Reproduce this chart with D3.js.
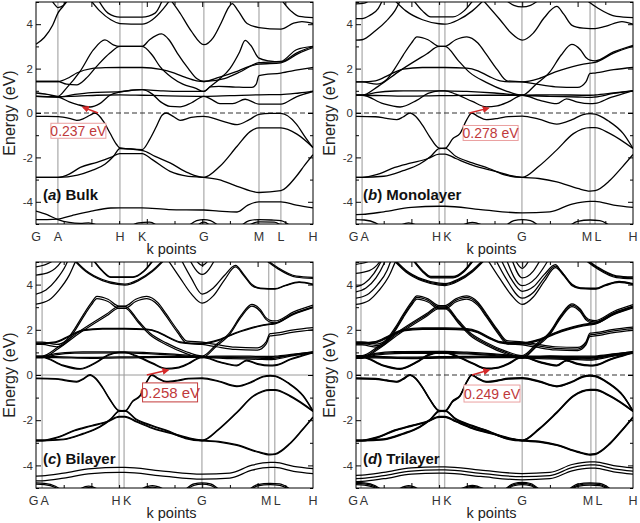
<!DOCTYPE html>
<html><head><meta charset="utf-8">
<script src="https://cdn.jsdelivr.net/npm/d3@7"></script>
<style>
body{margin:0;background:#fff}
svg text{font-family:"Liberation Sans",Arial,Helvetica,sans-serif}
</style></head>
<body><svg id="c" width="640" height="523"></svg>
<script>
// ---------------- DATA ----------------
const kLabels = ["G","A","H","K","G","M","L","H"];
const kPosBulk = [0,0.079,0.303,0.383,0.606,0.805,0.884,1];
const kPosMono = [0,0.022,0.300,0.321,0.599,0.845,0.863,1];
const kPosBi   = [0,0.022,0.300,0.318,0.599,0.840,0.862,1];
const kPosTri  = [0,0.018,0.300,0.320,0.600,0.848,0.866,1];
const panelNames = ["a","b","c","d"];
const panelTitles = ["Bulk","Monolayer","Bilayer","Trilayer"];
const gapLabels = ["0.237 eV","0.278 eV","0.258 eV","0.249 eV"];
const yMajor = [-4,-2,0,2,4];
const yMinor = [-5,-3,-1,1,3,5];

// Bulk bands [k, E(eV)]
const bV1=[[0,-0.15],[0.04,-0.15],[0.08,-0.16],[0.12,-0.24],[0.147,-0.33],[0.17,-0.26],[0.195,-0.1],[0.213,0],[0.243,-0.37],[0.267,-0.9],[0.291,-1.42],[0.303,-1.57],[0.34,-1.62],[0.383,-1.65],[0.41,-1.2],[0.435,-0.6],[0.455,-0.1],[0.47,0],[0.495,-0.15],[0.52,-0.33],[0.56,-0.2],[0.606,-0.15],[0.664,-0.33],[0.726,-0.52],[0.77,-0.3],[0.805,-0.06],[0.845,-0.02],[0.884,-0.02],[0.94,-0.5],[0.97,-1.05],[1,-1.57]];
const bV2=[[0,-2.9],[0.079,-2.9],[0.12,-2.75],[0.16,-2.45],[0.22,-2.22],[0.27,-2.0],[0.303,-1.83],[0.383,-1.83],[0.42,-2.1],[0.484,-2.63],[0.55,-2.85],[0.606,-2.9],[0.66,-3.0],[0.726,-3.3],[0.805,-3.58],[0.884,-3.5],[0.94,-2.85],[0.97,-2.35],[1,-1.88]];
const bV3=[[0,-2.9],[0.079,-2.9],[0.15,-2.8],[0.2,-2.6],[0.25,-2.3],[0.28,-1.95],[0.303,-1.6],[0.383,-1.68],[0.43,-1.95],[0.484,-2.25],[0.55,-2.7],[0.606,-2.9],[0.664,-2.4],[0.726,-1.5],[0.773,-0.84],[0.805,-0.67],[0.884,-0.67],[0.942,-0.95],[1,-1.55]];
const bV4=[[0,-4.42],[0.04,-4.58],[0.079,-4.8],[0.12,-4.93],[0.16,-4.97],[0.19,-4.95],[0.22,-5.05],[0.25,-5.2]];
const bV5=[[0,-4.8],[0.04,-4.8],[0.079,-4.78],[0.13,-4.62],[0.2,-4.42],[0.27,-4.28],[0.303,-4.27],[0.383,-4.27],[0.48,-4.35],[0.606,-4.37],[0.66,-4.42],[0.726,-4.46],[0.765,-4.15],[0.805,-4.0],[0.884,-4.0],[0.94,-4.15],[1,-4.27]];
const bV6=[[0.33,-5.2],[0.37,-4.95],[0.41,-4.92],[0.45,-5.2]];
const bV7=[[0.54,-5.2],[0.58,-4.85],[0.606,-4.8],[0.63,-4.85],[0.67,-5.2]];
const bV8=[[0.57,-5.2],[0.606,-4.92],[0.64,-5.2]];
const bV9=[[0.73,-5.2],[0.77,-4.85],[0.805,-4.8],[0.85,-4.82],[0.884,-4.85],[0.93,-5.2]];
const bV10=[[0.75,-5.2],[0.805,-4.9],[0.86,-4.92],[0.9,-5.2]];
const bC1=[[0,0.75],[0.04,0.74],[0.079,0.72],[0.12,0.5],[0.15,0.38],[0.195,0.27],[0.23,0.42],[0.267,0.8],[0.303,0.94],[0.383,1.05],[0.42,0.85],[0.45,0.5],[0.484,0.3],[0.52,0.28],[0.56,0.45],[0.606,0.75],[0.635,0.6],[0.664,0.42],[0.71,0.42],[0.755,0.62],[0.805,0.4],[0.884,0.4],[0.94,0.73],[1,0.97]];
const bC2=[[0,0.75],[0.079,0.74],[0.15,0.76],[0.22,0.8],[0.303,0.82],[0.383,0.8],[0.45,0.78],[0.52,0.76],[0.606,0.75],[0.7,0.78],[0.805,0.82],[0.884,0.83],[0.95,0.9],[1,0.97]];
const bC3=[[0,0.75],[0.079,0.72],[0.14,0.84],[0.2,0.92],[0.303,0.96],[0.383,1.05],[0.45,1.0],[0.52,0.97],[0.606,0.97],[0.63,1.18],[0.66,1.2],[0.72,1.17],[0.78,1.15],[0.795,1.3],[0.805,1.68],[0.884,1.8],[0.95,1.95],[1,2.05]];
const bC4=[[0,1.42],[0.079,1.42],[0.11,1.3],[0.147,1.27],[0.18,1.55],[0.219,2.1],[0.267,2.7],[0.303,3.0],[0.383,3.0],[0.42,2.6],[0.447,2.1],[0.49,1.6],[0.53,1.3],[0.575,1.12],[0.606,0.97],[0.63,1.2],[0.66,1.5],[0.7,2.0],[0.735,2.75],[0.755,3.27],[0.775,3.05],[0.805,2.47],[0.84,2.35],[0.884,2.3],[0.94,2.7],[1,3.0]];
const bC5=[[0,1.42],[0.079,1.42],[0.12,1.6],[0.147,1.8],[0.2,2.0],[0.25,2.04],[0.303,2.05],[0.383,2.05],[0.45,1.97],[0.5,1.8],[0.54,1.6],[0.58,1.45],[0.606,1.42],[0.68,1.55],[0.74,1.87],[0.805,2.27],[0.884,2.32],[0.94,2.85],[1,3.0]];
const bC6=[[0,0.9],[0.04,0.84],[0.079,0.75],[0.11,1.12],[0.159,1.87],[0.207,2.84],[0.249,3.29],[0.279,3.07],[0.303,3.0],[0.383,3.0],[0.41,3.3],[0.453,3.56],[0.48,3.3],[0.51,2.7],[0.55,2.0],[0.58,1.55],[0.606,1.42],[0.66,1.6],[0.72,1.85],[0.77,2.1],[0.805,2.2],[0.884,2.26],[0.95,2.7],[1,2.95]];
const bH1=[[0,3.1],[0.03,3.4],[0.06,3.95],[0.079,4.5],[0.1,4.85],[0.115,5.2]];
const bH2=[[0.05,5.2],[0.07,4.85],[0.079,4.75],[0.1,4.85],[0.12,5.2]];
const bH3=[[0.19,5.2],[0.23,4.6],[0.27,4.2],[0.303,4.03],[0.383,4.0],[0.42,4.2],[0.46,4.7],[0.49,5.2]];
const bH4=[[0.22,5.2],[0.26,4.5],[0.303,4.32],[0.383,4.32],[0.43,4.5],[0.46,5.2]];
const bH5=[[0.48,5.2],[0.52,4.5],[0.56,3.7],[0.606,3.08],[0.64,3.4],[0.67,4.1],[0.695,4.75],[0.708,4.93],[0.73,4.6],[0.762,4.03],[0.805,3.85],[0.884,3.78],[0.93,4.05],[0.96,4.12],[1,4.03]];
const bH6=[[0.88,5.2],[0.92,4.6],[0.95,4.35],[1,4.3]];
const bulkBands=[bV1,bV2,bV3,bV4,bV5,bV6,bV7,bV8,bV9,bV10,bC1,bC2,bC3,bC4,bC5,bC6,bH1,bH2,bH3,bH4,bH5,bH6];

// Monolayer-type bands (shared by mono / bi / tri)
const mV1=[[0,-0.15],[0.07,-0.17],[0.11,-0.24],[0.147,-0.3],[0.17,-0.18],[0.195,0],[0.215,-0.15],[0.24,-0.55],[0.265,-1.05],[0.3,-1.58],[0.321,-1.6],[0.35,-1.15],[0.375,-0.93],[0.4,-0.3],[0.418,0],[0.44,-0.15],[0.47,-0.3],[0.51,-0.25],[0.55,-0.16],[0.6,-0.14],[0.66,-0.28],[0.725,-0.5],[0.78,-0.3],[0.82,-0.07],[0.845,-0.03],[0.863,-0.05],[0.91,-0.35],[0.965,-0.93],[1,-1.6]];
const mV2=[[0,-2.9],[0.022,-2.9],[0.08,-2.75],[0.14,-2.45],[0.2,-2.25],[0.26,-2.05],[0.3,-1.85],[0.321,-1.85],[0.36,-2.05],[0.42,-2.35],[0.5,-2.62],[0.56,-2.82],[0.6,-2.9],[0.66,-2.95],[0.725,-3.1],[0.8,-3.4],[0.845,-3.52],[0.863,-3.5],[0.917,-3.03],[0.96,-2.45],[1,-1.87]];
const mV3=[[0,-2.9],[0.022,-2.9],[0.1,-2.85],[0.17,-2.6],[0.23,-2.3],[0.27,-1.95],[0.3,-1.6],[0.321,-1.58],[0.36,-1.95],[0.42,-2.25],[0.48,-2.5],[0.54,-2.8],[0.6,-2.9],[0.66,-2.4],[0.725,-1.66],[0.785,-0.93],[0.845,-0.66],[0.863,-0.66],[0.917,-0.93],[1,-1.6]];
const mV4=[[0,-4.58],[0.022,-4.57],[0.1,-4.45],[0.2,-4.25],[0.3,-4.2],[0.321,-4.2],[0.45,-4.35],[0.6,-4.5],[0.7,-4.45],[0.78,-4.1],[0.845,-3.98],[0.863,-3.98],[0.93,-4.15],[1,-4.25]];
const mV5=[[0,-4.8],[0.03,-4.82],[0.07,-4.95],[0.1,-5.2]];
const mV6=[[0.14,-5.2],[0.19,-4.95],[0.24,-5.2]];
const mV7=[[0.36,-5.2],[0.42,-4.93],[0.48,-5.2]];
const mV8=[[0.53,-5.2],[0.57,-4.85],[0.6,-4.8],[0.63,-4.85],[0.67,-5.2]];
const mV9=[[0.76,-5.2],[0.8,-4.88],[0.845,-4.82],[0.88,-4.85],[0.93,-5.2]];
const mC1=[[0,0.8],[0.022,0.8],[0.098,0.42],[0.159,0.27],[0.219,0.57],[0.26,0.88],[0.3,1.0],[0.321,1.0],[0.36,0.85],[0.42,0.52],[0.47,0.28],[0.51,0.32],[0.55,0.5],[0.6,0.8],[0.664,0.57],[0.725,0.42],[0.76,0.64],[0.8,0.49],[0.845,0.42],[0.863,0.43],[0.92,0.7],[0.965,0.87],[1,1.0]];
const mC2=[[0,0.8],[0.022,0.8],[0.1,0.78],[0.2,0.76],[0.3,0.78],[0.321,0.78],[0.45,0.8],[0.6,0.8],[0.7,0.82],[0.845,0.8],[0.863,0.81],[0.93,0.9],[1,1.0]];
const mC3=[[0,0.8],[0.022,0.8],[0.07,0.92],[0.14,0.99],[0.3,1.0],[0.321,1.0],[0.4,0.97],[0.5,0.9],[0.6,0.8],[0.7,0.75],[0.8,0.72],[0.845,0.7],[0.863,0.72],[0.93,0.88],[1,1.0]];
const mC4=[[0,1.4],[0.022,1.4],[0.07,1.45],[0.12,1.72],[0.17,1.98],[0.24,2.05],[0.3,2.05],[0.321,2.05],[0.4,2.02],[0.44,1.9],[0.48,1.65],[0.52,1.45],[0.56,1.4],[0.6,1.4],[0.66,1.55],[0.72,1.85],[0.8,2.15],[0.845,2.25],[0.863,2.28],[0.93,2.7],[1,3.0]];
const mC5=[[0,1.4],[0.022,1.4],[0.075,1.3],[0.11,1.5],[0.14,2.0],[0.17,2.6],[0.2,3.15],[0.22,3.43],[0.26,3.3],[0.3,3.0],[0.321,3.0],[0.36,3.3],[0.4,3.43],[0.44,3.15],[0.47,2.65],[0.51,1.95],[0.545,1.45],[0.6,1.4],[0.65,1.3],[0.72,1.18],[0.8,1.15],[0.83,1.4],[0.845,1.78],[0.863,1.8],[0.93,1.95],[1,2.05]];
const mC6=[[0,0.8],[0.022,0.8],[0.08,1.2],[0.159,1.91],[0.255,2.66],[0.3,3.0],[0.321,3.0],[0.37,2.35],[0.41,1.83],[0.47,1.38],[0.54,1.0],[0.6,0.8],[0.65,1.3],[0.7,1.85],[0.74,2.6],[0.779,3.09],[0.81,2.85],[0.83,2.5],[0.845,2.38],[0.863,2.35],[0.93,2.75],[1,3.05]];
const mH3=[[0.13,5.2],[0.18,4.6],[0.24,4.2],[0.3,4.02],[0.321,4.0],[0.37,4.2],[0.42,4.6],[0.47,5.2]];
const mH4=[[0.2,5.2],[0.24,4.6],[0.27,4.33],[0.35,4.33],[0.39,4.6],[0.43,5.2]];
const mH7=[[0.82,5.2],[0.87,4.75],[0.94,4.35],[1,4.3]];
const commonBands=[mV1,mV2,mV3,mV4,mV5,mV6,mV7,mV8,mV9,mC1,mC2,mC3,mC4,mC5,mC6,mH3,mH4,mH7];
// visible layer splitting (eV) of each shared band
const biSplit =[0.03,0.03,0.03,0.22,0.06,0.06,0.06,0.06,0.06,0.03,0.04,0.05,0.03,0.1,0.08,0.05,0.03,0.05];
const triSplit=[0.02,0.02,0.02,0.14,0.05,0.05,0.05,0.05,0.05,0.02,0.03,0.04,0.03,0.07,0.06,0.04,0.03,0.04];

// Monolayer-only upper bands
const mH1=[[0,3.28],[0.022,3.3],[0.07,3.7],[0.11,4.15],[0.14,4.6],[0.165,5.2]];
const mH2=[[0,4.25],[0.022,4.25],[0.05,4.4],[0.08,4.7],[0.1,5.2]];
const mH5=[[0.45,5.2],[0.52,4.2],[0.56,3.6],[0.6,3.28],[0.64,3.6],[0.68,4.3],[0.725,4.8],[0.75,4.45],[0.78,3.95],[0.82,3.82],[0.845,3.8],[0.863,3.8],[0.9,3.9],[0.96,4.12],[1,4.0]];
const mH6=[[0.53,5.2],[0.57,4.85],[0.6,4.78],[0.63,4.85],[0.67,5.2]];
const mH8=[[0,4.92],[0.03,4.95],[0.06,5.2]];
const monoOnly=[mH1,mH2,mH5,mH6,mH8];

// Bilayer-only upper bands
const biG1=[[0,3.14],[0.047,3.32],[0.083,3.76],[0.12,4.42],[0.14,4.95],[0.15,5.2]];
const biG2=[[0,3.58],[0.036,3.76],[0.072,4.2],[0.108,4.87],[0.12,5.2]];
const biG3=[[0,4.42],[0.048,4.55],[0.09,5.0],[0.1,5.2]];
const biG4=[[0,4.78],[0.054,5.0],[0.07,5.2]];
const biB1=[[0.47,5.2],[0.52,4.3],[0.56,3.6],[0.6,3.18],[0.64,3.5],[0.68,4.2],[0.72,4.78],[0.75,4.4],[0.78,3.95],[0.81,3.82],[0.84,3.8],[0.862,3.8],[0.9,3.95],[0.95,4.1],[1,4.0]];
const biB2=[[0.52,5.2],[0.56,4.3],[0.6,3.58],[0.64,3.85],[0.68,4.4],[0.72,4.85],[0.75,4.45],[0.78,4.0],[0.81,3.84],[0.84,3.82],[0.862,3.82],[0.9,3.97],[0.95,4.12],[1,4.02]];
const biB3=[[0.55,5.2],[0.6,4.45],[0.65,5.2]];
const biB4=[[0.57,5.2],[0.6,4.85],[0.63,5.2]];
const biOnly=[biG1,biG2,biG3,biG4,biB1,biB2,biB3,biB4];

// Trilayer-only upper bands
const triG1=[[0,3.12],[0.047,3.3],[0.083,3.74],[0.12,4.4],[0.14,4.95],[0.15,5.2]];
const triG2=[[0,3.4],[0.04,3.55],[0.078,4.0],[0.113,4.65],[0.13,5.2]];
const triG3=[[0,3.68],[0.036,3.85],[0.072,4.3],[0.1,4.9],[0.11,5.2]];
const triG4=[[0,3.9],[0.03,4.05],[0.065,4.5],[0.09,5.0],[0.1,5.2]];
const triG5=[[0,4.5],[0.048,4.62],[0.085,5.0],[0.095,5.2]];
const triG6=[[0,4.9],[0.04,5.0],[0.06,5.2]];
const triB1=[[0.47,5.2],[0.52,4.25],[0.56,3.55],[0.6,3.12],[0.64,3.45],[0.68,4.15],[0.72,4.75],[0.75,4.4],[0.78,3.95],[0.81,3.82],[0.848,3.8],[0.866,3.8],[0.9,3.95],[0.95,4.1],[1,4.0]];
const triB2=[[0.5,5.2],[0.54,4.3],[0.6,3.4],[0.64,3.65],[0.68,4.3],[0.72,4.82],[0.75,4.45],[0.78,3.98],[0.81,3.84],[0.848,3.82],[0.866,3.82],[0.9,3.97],[0.95,4.12],[1,4.02]];
const triB3=[[0.52,5.2],[0.56,4.25],[0.6,3.7],[0.64,3.9],[0.68,4.45],[0.72,4.88],[0.74,4.6],[0.78,4.02],[0.81,3.86],[0.848,3.84],[0.866,3.84],[0.9,3.99],[0.95,4.14],[1,4.04]];
const triB4=[[0.54,5.2],[0.6,3.95],[0.65,4.3],[0.69,5.0],[0.7,5.2]];
const triB5=[[0.56,5.2],[0.6,4.3],[0.64,4.6],[0.67,5.2]];
const triB6=[[0.57,5.2],[0.6,4.72],[0.63,5.2]];
const triOnly=[triG1,triG2,triG3,triG4,triG5,triG6,triB1,triB2,triB3,triB4,triB5,triB6];

// VBM -> CBM arrows [k, E]
const gapArrows=[[[0.224,0],[0.17,0.26]],[[0.41,0],[0.478,0.22]],[[0.40,0],[0.477,0.22]],[[0.419,0],[0.48,0.22]]];

// ---------------- LAYOUT ----------------
const frames=[{x0:36,x1:313,y0:2,y1:224},{x0:356,x1:633,y0:2,y1:224},{x0:36,x1:313,y0:262,y1:488},{x0:356,x1:633,y0:262,y1:488}];
const boxes=[{k:0.153,e:-0.8,w:55,h:15,stroke:"#eaa0a0",fs:14},{k:0.486,e:-0.9,w:55,h:15,stroke:"#eaa0a0",fs:14},{k:0.484,e:-0.77,w:55,h:19,stroke:"#c43a3a",fs:15},{k:0.491,e:-0.82,w:56,h:17,stroke:"#eaa0a0",fs:14}];

function expand(bands, splits, n){
  const out=[];
  bands.forEach((b,i)=>{
    if(!splits){out.push({d:b,o:0});return;}
    const s=splits[i];
    if(n===2){out.push({d:b,o:-s/2});out.push({d:b,o:s/2});}
    else {out.push({d:b,o:-s});out.push({d:b,o:0});out.push({d:b,o:s});}
  });
  return out;
}
const panelBands=[
  expand(bulkBands,null),
  expand(commonBands.concat(monoOnly),null),
  expand(commonBands,biSplit,2).concat(expand(biOnly,null)),
  expand(commonBands,triSplit,3).concat(expand(triOnly,null))
];
const panelK=[kPosBulk,kPosMono,kPosBi,kPosTri];

const svg=d3.select("#c");
const defs=svg.append("defs");
defs.append("marker").attr("id","ah").attr("viewBox","0 0 10 10").attr("refX",8).attr("refY",5)
  .attr("markerWidth",5).attr("markerHeight",5).attr("orient","auto")
  .append("path").attr("d","M0,0L10,5L0,10z").attr("fill","#d42a2a");

frames.forEach((f,pi)=>{
  const x=d3.scaleLinear().domain([0,1]).range([f.x0,f.x1]);
  const y=d3.scaleLinear().domain([-5,5]).range([f.y1,f.y0]);
  const g=svg.append("g");
  defs.append("clipPath").attr("id","cp"+pi).append("rect")
    .attr("x",f.x0).attr("y",f.y0).attr("width",f.x1-f.x0).attr("height",f.y1-f.y0);
  const kp=panelK[pi];
  // high-symmetry lines
  g.selectAll(".vl").data(kp.slice(1,-1)).join("line")
    .attr("x1",d=>x(d)).attr("x2",d=>x(d)).attr("y1",f.y0).attr("y2",f.y1)
    .attr("stroke","#b5b5b5").attr("stroke-width",1.4);
  // Fermi level
  const zl=g.append("line").attr("x1",f.x0).attr("x2",f.x1).attr("y1",y(0)).attr("y2",y(0));
  if(pi===2) zl.attr("stroke","#9a9a9a").attr("stroke-width",1);
  else zl.attr("stroke","#333").attr("stroke-width",1.2).attr("stroke-dasharray","5,3");
  // bands
  const line=d3.line().x(d=>x(d[0])).curve(d3.curveMonotoneX);
  const bg=g.append("g").attr("clip-path","url(#cp"+pi+")");
  panelBands[pi].forEach(b=>{
    bg.append("path").attr("d",line.y(d=>y(d[1]+b.o))(b.d))
      .attr("fill","none").attr("stroke","#000").attr("stroke-width",pi===0||pi===1?1.3:1.25);
  });
  // frame
  g.append("rect").attr("x",f.x0).attr("y",f.y0).attr("width",f.x1-f.x0).attr("height",f.y1-f.y0)
    .attr("fill","none").attr("stroke","#000").attr("stroke-width",1);
  // axes ticks
  const xt=[0.2,0.4,0.6,0.8], xm=[0.1,0.3,0.5,0.7,0.9];
  const ax=(gen,vals,size,tx,ty)=>{
    const a=g.append("g").attr("transform",`translate(${tx},${ty})`)
      .call(gen.tickValues(vals).tickSize(size).tickFormat(""));
    a.select(".domain").remove(); a.selectAll("line").attr("stroke","#000");
    return a;
  };
  ax(d3.axisBottom(x),xt,-5,0,f.y1); ax(d3.axisBottom(x),xm,-3,0,f.y1);
  ax(d3.axisTop(x),xt,-5,0,f.y0); ax(d3.axisTop(x),xm,-3,0,f.y0);
  ax(d3.axisRight(y),yMajor,-5,f.x1,0); ax(d3.axisRight(y),yMinor,-3,f.x1,0);
  ax(d3.axisLeft(y),yMinor,-3,f.x0,0);
  const la=g.append("g").attr("transform",`translate(${f.x0},0)`)
    .call(d3.axisLeft(y).tickValues(yMajor).tickSize(-5).tickPadding(3).tickFormat(d=>String(d)));
  la.select(".domain").remove(); la.selectAll("line").attr("stroke","#000");
  la.selectAll("text").attr("font-size",11.5).attr("fill","#333")
    .attr("font-family","Liberation Sans, Arial, sans-serif");
  // k labels
  const px=kp.map(x), lx=px.slice();
  for(let i=0;i<px.length-1;i++){ if(px[i+1]-px[i]<12){const m=(px[i]+px[i+1])/2; lx[i]=m-5.5; lx[i+1]=m+5.5;} }
  g.selectAll(".kl").data(kLabels).join("text").attr("x",(d,i)=>lx[i]).attr("y",f.y1+17)
    .attr("text-anchor","middle").attr("font-size",12.5).attr("fill","#333").text(d=>d);
  g.append("text").attr("x",(f.x0+f.x1)/2-3).attr("y",f.y1+30).attr("text-anchor","middle")
    .attr("font-size",14.5).attr("fill","#222").text("k points");
  g.append("text").attr("transform",`translate(${f.x0-21},${y(0)}) rotate(-90)`).attr("text-anchor","middle")
    .attr("font-size",16).attr("fill","#222").text("Energy (eV)");
  // panel title
  const t=g.append("text").attr("x",f.x0+7).attr("y",y(-4)-1.5).attr("font-size",15).attr("font-weight","bold").attr("fill","#111");
  t.append("tspan").text("(");
  t.append("tspan").attr("font-style","italic").text(panelNames[pi]);
  t.append("tspan").text(") "+panelTitles[pi]);
  // gap annotation
  const bx=boxes[pi];
  g.append("rect").attr("x",x(bx.k)-bx.w/2).attr("y",y(bx.e)-bx.h/2).attr("width",bx.w).attr("height",bx.h)
    .attr("fill","#fff").attr("stroke",bx.stroke).attr("stroke-width",1);
  g.append("text").attr("x",x(bx.k)).attr("y",y(bx.e)+bx.fs*0.36).attr("text-anchor","middle")
    .attr("font-size",bx.fs).attr("fill","#c0393b").text(gapLabels[pi]);
  const ar=gapArrows[pi];
  g.append("line").attr("x1",x(ar[0][0])).attr("y1",y(ar[0][1])).attr("x2",x(ar[1][0])).attr("y2",y(ar[1][1]))
    .attr("stroke","#d42a2a").attr("stroke-width",1.4).attr("marker-end","url(#ah)");
});
</script></body></html>
